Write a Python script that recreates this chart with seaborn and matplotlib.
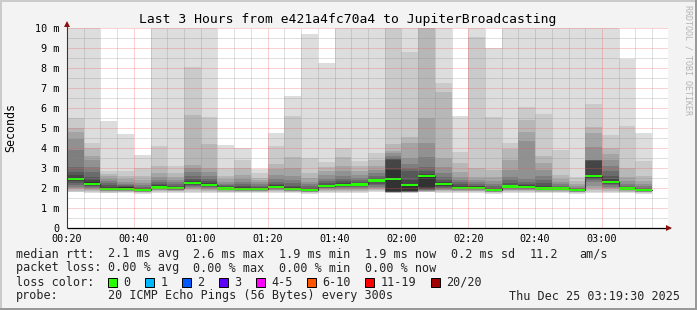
import numpy as np
import pandas as pd
import matplotlib
matplotlib.use("Agg")
import matplotlib.pyplot as plt
from matplotlib.patches import Rectangle
import seaborn as sns

# ---------------- data ----------------
bar_times = ["00:20", "00:25", "00:30", "00:35", "00:40", "00:45", "00:50", "00:55",
             "01:00", "01:05", "01:10", "01:15", "01:20", "01:25", "01:30", "01:35",
             "01:40", "01:45", "01:50", "01:55", "02:00", "02:05", "02:10", "02:15",
             "02:20", "02:25", "02:30", "02:35", "02:40", "02:45", "02:50", "02:55",
             "03:00", "03:05", "03:10"]

median_ms = [2.47, 2.20, 1.95, 1.96, 1.90, 2.03, 1.99, 2.27, 2.15, 1.98, 1.95, 1.95,
             2.07, 1.97, 1.90, 2.11, 2.17, 2.18, 2.38, 2.45, 2.15, 2.62, 2.22, 2.02,
             2.02, 1.90, 2.08, 2.07, 1.98, 1.98, 1.90, 2.60, 2.32, 1.98, 1.90]

# sorted pings, highest first (ping20 .. ping11), in ms
upper_ms = [
    [14, 5.50, 5.02, 4.78, 4.45, 3.90, 3.07, 2.82, 2.65, 2.52],
    [14, 4.27, 4.02, 3.60, 3.40, 3.07, 2.82, 2.57, 2.40, 2.28],
    [5.37, 2.87, 2.72, 2.58, 2.45, 2.35, 2.25, 2.15, 2.07, 2.00],
    [4.70, 2.87, 2.60, 2.45, 2.32, 2.22, 2.15, 2.10, 2.06, 2.03],
    [3.65, 3.00, 2.60, 2.40, 2.25, 2.15, 2.07, 2.01, 1.97, 1.94],
    [14, 4.10, 3.10, 2.75, 2.55, 2.42, 2.30, 2.20, 2.13, 2.09],
    [14, 3.10, 2.75, 2.55, 2.40, 2.28, 2.20, 2.12, 2.06, 2.02],
    [14, 8.07, 5.65, 3.15, 3.00, 2.80, 2.60, 2.45, 2.35, 2.30],
    [14, 5.57, 4.20, 3.00, 2.80, 2.60, 2.45, 2.33, 2.24, 2.19],
    [4.15, 3.00, 2.60, 2.45, 2.30, 2.22, 2.15, 2.08, 2.03, 2.00],
    [4.00, 3.40, 3.00, 2.65, 2.45, 2.30, 2.18, 2.10, 2.04, 2.00],
    [2.95, 2.75, 2.50, 2.38, 2.28, 2.20, 2.12, 2.06, 2.02, 1.99],
    [4.73, 4.10, 3.20, 2.95, 2.65, 2.45, 2.30, 2.20, 2.13, 2.09],
    [6.60, 5.62, 3.53, 3.00, 2.60, 2.40, 2.25, 2.12, 2.04, 1.99],
    [9.72, 3.50, 2.75, 2.50, 2.30, 2.18, 2.08, 2.00, 1.95, 1.92],
    [8.27, 3.30, 3.05, 2.85, 2.65, 2.45, 2.33, 2.23, 2.16, 2.12],
    [14, 4.00, 3.55, 3.10, 2.85, 2.60, 2.45, 2.33, 2.25, 2.20],
    [14, 3.37, 3.10, 2.85, 2.65, 2.50, 2.40, 2.30, 2.24, 2.20],
    [14, 3.75, 3.40, 3.10, 2.90, 2.75, 2.62, 2.52, 2.45, 2.40],
    [14, 14, 4.20, 3.87, 3.75, 3.60, 3.50, 3.45, 3.40, 2.90],
    [14, 8.78, 4.57, 4.25, 3.50, 3.20, 3.00, 2.85, 2.40, 2.20],
    [14, 14, 14, 5.50, 4.27, 3.57, 3.07, 2.83, 2.70, 2.65],
    [14, 7.27, 6.82, 3.48, 3.07, 2.77, 2.57, 2.40, 2.30, 2.25],
    [5.62, 3.82, 3.23, 2.82, 2.57, 2.40, 2.28, 2.18, 2.10, 2.05],
    [14, 9.57, 3.00, 2.57, 2.42, 2.30, 2.20, 2.12, 2.08, 2.05],
    [8.98, 5.53, 2.90, 2.57, 2.35, 2.20, 2.10, 2.02, 1.97, 1.93],
    [14, 4.27, 3.95, 3.40, 2.90, 2.57, 2.40, 2.25, 2.15, 2.10],
    [14, 6.05, 5.40, 4.78, 4.33, 2.45, 2.30, 2.20, 2.13, 2.09],
    [14, 5.70, 3.60, 3.23, 2.90, 2.60, 2.40, 2.25, 2.10, 2.03],
    [14, 3.90, 2.65, 2.45, 2.30, 2.20, 2.12, 2.06, 2.02, 2.00],
    [14, 2.53, 2.35, 2.20, 2.10, 2.02, 1.98, 1.95, 1.93, 1.92],
    [14, 6.20, 5.03, 4.77, 4.07, 3.42, 3.40, 3.38, 3.36, 2.66],
    [14, 4.65, 4.00, 3.70, 3.40, 3.10, 2.85, 2.60, 2.45, 2.37],
    [8.45, 5.10, 3.00, 2.57, 2.35, 2.22, 2.12, 2.06, 2.02, 2.00],
    [4.73, 3.35, 2.60, 2.35, 2.20, 2.10, 2.02, 1.97, 1.94, 1.92],
]

# sorted pings, lowest first (ping1 .. ping10), in ms
lower_ms = [
    [1.78, 1.82, 1.87, 1.93, 2.00, 2.07, 2.15, 2.25, 2.35, 2.43],
    [1.77, 1.80, 1.84, 1.88, 1.93, 1.98, 2.03, 2.08, 2.13, 2.17],
    [1.74, 1.77, 1.80, 1.83, 1.86, 1.88, 1.90, 1.92, 1.93, 1.94],
    [1.74, 1.78, 1.81, 1.84, 1.87, 1.89, 1.91, 1.93, 1.94, 1.95],
    [1.72, 1.75, 1.78, 1.80, 1.82, 1.84, 1.85, 1.87, 1.88, 1.89],
    [1.76, 1.80, 1.84, 1.88, 1.91, 1.94, 1.96, 1.98, 2.00, 2.02],
    [1.75, 1.79, 1.83, 1.86, 1.89, 1.91, 1.93, 1.95, 1.97, 1.98],
    [1.77, 1.82, 1.88, 1.94, 2.00, 2.06, 2.12, 2.17, 2.21, 2.25],
    [1.76, 1.80, 1.85, 1.90, 1.95, 2.00, 2.04, 2.08, 2.11, 2.13],
    [1.75, 1.79, 1.82, 1.85, 1.88, 1.90, 1.92, 1.94, 1.96, 1.97],
    [1.74, 1.78, 1.81, 1.84, 1.86, 1.88, 1.90, 1.92, 1.93, 1.94],
    [1.75, 1.78, 1.81, 1.84, 1.86, 1.88, 1.90, 1.92, 1.93, 1.94],
    [1.76, 1.80, 1.84, 1.88, 1.92, 1.95, 1.98, 2.01, 2.04, 2.06],
    [1.74, 1.78, 1.81, 1.84, 1.87, 1.90, 1.92, 1.94, 1.95, 1.96],
    [1.72, 1.75, 1.78, 1.80, 1.82, 1.84, 1.85, 1.87, 1.88, 1.89],
    [1.76, 1.80, 1.85, 1.90, 1.94, 1.98, 2.02, 2.05, 2.08, 2.10],
    [1.76, 1.81, 1.86, 1.91, 1.96, 2.00, 2.05, 2.09, 2.13, 2.15],
    [1.77, 1.81, 1.86, 1.91, 1.96, 2.01, 2.06, 2.10, 2.14, 2.16],
    [1.78, 1.83, 1.88, 1.94, 2.00, 2.07, 2.14, 2.22, 2.30, 2.35],
    [1.74, 1.76, 1.77, 1.78, 1.79, 1.80, 1.80, 1.81, 1.81, 1.83],
    [1.75, 1.77, 1.78, 1.79, 1.80, 1.81, 1.82, 1.83, 1.84, 1.86],
    [1.78, 1.80, 1.82, 1.84, 1.86, 1.88, 1.90, 1.93, 1.97, 2.05],
    [1.76, 1.80, 1.84, 1.88, 1.92, 1.96, 2.00, 2.05, 2.10, 2.17],
    [1.75, 1.79, 1.83, 1.87, 1.90, 1.93, 1.95, 1.97, 1.99, 2.01],
    [1.75, 1.79, 1.83, 1.87, 1.90, 1.93, 1.95, 1.97, 1.99, 2.01],
    [1.72, 1.75, 1.78, 1.80, 1.82, 1.84, 1.85, 1.87, 1.88, 1.89],
    [1.76, 1.80, 1.84, 1.88, 1.92, 1.96, 1.99, 2.02, 2.05, 2.07],
    [1.76, 1.80, 1.84, 1.88, 1.92, 1.95, 1.98, 2.01, 2.04, 2.06],
    [1.75, 1.79, 1.82, 1.85, 1.88, 1.90, 1.92, 1.94, 1.96, 1.97],
    [1.75, 1.79, 1.82, 1.85, 1.88, 1.90, 1.92, 1.94, 1.96, 1.97],
    [1.72, 1.75, 1.78, 1.80, 1.82, 1.84, 1.85, 1.87, 1.88, 1.89],
    [1.76, 1.82, 1.90, 2.00, 2.10, 2.30, 2.40, 2.45, 2.50, 2.55],
    [1.77, 1.82, 1.87, 1.93, 1.99, 2.06, 2.13, 2.20, 2.26, 2.30],
    [1.75, 1.79, 1.82, 1.85, 1.88, 1.90, 1.92, 1.94, 1.96, 1.97],
    [1.72, 1.75, 1.78, 1.80, 1.82, 1.84, 1.85, 1.87, 1.88, 1.89],
]

x_tick_labels = ["00:20", "00:40", "01:00", "01:20", "01:40", "02:00", "02:20", "02:40", "03:00"]
y_tick_labels = ["0", "1 m", "2 m", "3 m", "4 m", "5 m", "6 m", "7 m", "8 m", "9 m", "10 m"]
title_text = "Last 3 Hours from e421a4fc70a4 to JupiterBroadcasting"
loss_labels = ["0", "1", "2", "3", "4-5", "6-10", "11-19", "20/20"]
loss_colors = ["#26ff00", "#00b8ff", "#0059ff", "#5e00ff", "#ff00ff", "#ff5500", "#ff0000", "#a10000"]
rtt_items = ["2.1 ms avg", "2.6 ms max", "1.9 ms min", "1.9 ms now", "0.2 ms sd", "11.2", "am/s"]
loss_items = ["0.00 % avg", "0.00 % max", "0.00 % min", "0.00 % now"]
probe_text = "20 ICMP Echo Pings (56 Bytes) every 300s"
date_text = "Thu Dec 25 03:19:30 2025"

# ---------------- style ----------------
sns.set_theme(style="white")
MONO = "DejaVu Sans Mono"
plt.rcParams["font.family"] = [MONO]

W, H = 697, 310
BG = "#f3f3f3"
fig = plt.figure(figsize=(W / 100, H / 100), dpi=100, facecolor=BG)

def fx(px):
    return px / W

def fy(py):
    return 1 - py / H

ax = fig.add_axes([fx(67), fy(228), (668 - 67) / W, 200 / H])
ax.set_facecolor("white")
for s in ax.spines.values():
    s.set_visible(False)

px_per_min = 535 / 160.0
xmin = 20.0
xmax = xmin + 601 / px_per_min
ax.set_xlim(xmin, xmax)
ax.set_ylim(0, 10)

def to_min(t):
    h, m = t.split(":")
    return int(h) * 60 + int(m)

starts = np.array([to_min(t) for t in bar_times], dtype=float)
up = np.array(upper_ms, dtype=float)
lo = np.array(lower_ms, dtype=float)
med = np.array(median_ms, dtype=float)

# smoke bands (smokeping style grey levels)
greys = [221, 202, 183, 164, 145, 126, 107, 88, 69, 50]
for k, g in enumerate(greys):
    bottoms = lo[:, k]
    tops = up[:, k]
    ax.bar(starts, tops - bottoms, bottom=bottoms, width=5, align="edge",
           color="#%02x%02x%02x" % (g, g, g), linewidth=0, antialiased=False,
           zorder=2 + k * 0.01)

# median: thin dark step line + green loss-colour bars
df_med = pd.DataFrame({"t": np.append(starts, starts[-1] + 5),
                       "m": np.append(med, med[-1])})
sns.lineplot(data=df_med, x="t", y="m", drawstyle="steps-post", color="#202020",
             linewidth=0.8, ax=ax, zorder=4, estimator=None)
ax.bar(starts, 0.11, bottom=med - 0.055, width=5, align="edge", color=loss_colors[0],
       linewidth=0, antialiased=False, zorder=5)

# grid (drawn on top, rrdtool-like dotted)
dot = (0, (1, 1))
minor_col = (0.55, 0.55, 0.55, 0.55)
major_col = (0.93, 0.35, 0.35, 0.55)
major_x = [to_min(t) for t in x_tick_labels]
minor_x = [v for v in np.arange(25, xmax, 5) if v not in major_x]
gkw = dict(linestyles=dot, linewidth=0.72, zorder=8)
ax.vlines(minor_x, 0, 10, colors=[minor_col], **gkw)
ax.vlines(major_x[1:], 0, 10, colors=[major_col], **gkw)
ax.hlines(np.arange(0.5, 10, 1.0), xmin, xmax, colors=[minor_col], **gkw)
ax.hlines(np.arange(1, 11, 1.0), xmin, xmax, colors=[major_col], **gkw)

# ticks
ax.set_xticks(major_x)
ax.set_xticklabels(x_tick_labels)
ax.set_xticks(minor_x, minor=True)
ax.set_yticks(range(11))
ax.set_yticklabels(y_tick_labels)
ax.set_yticks(np.arange(0.5, 10, 1.0), minor=True)
ax.tick_params(axis="both", which="major", direction="out", length=2, width=0.7,
               color="#303030", labelsize=7.3, labelcolor="black", pad=2.5)
ax.tick_params(axis="both", which="minor", direction="out", length=1.2, width=0.7,
               color="#606060")
ax.tick_params(axis="x", which="major", pad=2.2)
ax.tick_params(axis="y", which="major", pad=3.5)
ax.grid(False)
ax.set_xlabel("")
ax.set_ylabel("")

# axis lines and arrows
ax.plot([xmin, xmin + 603 / px_per_min], [0, 0], color="black", linewidth=0.9,
        clip_on=False, zorder=10, solid_capstyle="butt")
ax.plot([xmin, xmin], [0, 10.25], color="#5a2a2a", linewidth=0.8,
        clip_on=False, zorder=10, solid_capstyle="butt")
ax.plot([xmin + 602 / px_per_min], [0], marker=">", markersize=4.5, color="#8b1010",
        markeredgewidth=0, clip_on=False, zorder=11)
ax.plot([xmin], [10.2], marker="^", markersize=4.5, color="#8b1010",
        markeredgewidth=0, clip_on=False, zorder=11)

# ---------------- texts ----------------
fig.text(fx(347.5), fy(19), title_text, ha="center", va="center", fontsize=9.4,
         family=MONO, color="black")
fig.text(fx(11), fy(128), "Seconds", rotation=90, ha="center", va="center",
         fontsize=8.4, family=MONO, color="black")
fig.text(fx(688), fy(60), "RRDTOOL / TOBI OETIKER", rotation=270, ha="center",
         va="center", fontsize=6.0, family=MONO, color="#b4b4b4")

LF = 8.5
row_y = [254, 268, 282, 296]
fig.text(fx(16), fy(row_y[0]), "median rtt:", ha="left", va="center", fontsize=LF, family=MONO)
rtt_x = [107.5, 193, 279, 365, 451, 530, 579]
for s, x in zip(rtt_items, rtt_x):
    fig.text(fx(x), fy(row_y[0]), s, ha="left", va="center", fontsize=LF, family=MONO)

fig.text(fx(16), fy(row_y[1]), "packet loss:", ha="left", va="center", fontsize=LF, family=MONO)
for s, x in zip(loss_items, [107.5, 193, 279, 365]):
    fig.text(fx(x), fy(row_y[1]), s, ha="left", va="center", fontsize=LF, family=MONO)

fig.text(fx(16), fy(row_y[2]), "loss color:", ha="left", va="center", fontsize=LF, family=MONO)
box_x = [108, 145, 182, 219, 256, 307, 365, 431]
for lab, col, x in zip(loss_labels, loss_colors, box_x):
    fig.patches.append(Rectangle((fx(x), fy(287)), 8.5 / W, 9 / H, transform=fig.transFigure,
                                 facecolor=col, edgecolor="black", linewidth=0.7))
    fig.text(fx(x + 15.5), fy(row_y[2]), lab, ha="left", va="center", fontsize=LF, family=MONO)

fig.text(fx(16), fy(row_y[3]), "probe:", ha="left", va="center", fontsize=LF, family=MONO)
fig.text(fx(107.5), fy(row_y[3]), probe_text, ha="left", va="center", fontsize=LF, family=MONO)
fig.text(fx(680), fy(row_y[3]), date_text, ha="right", va="center", fontsize=LF, family=MONO)

# outer 3D border like rrdtool
fig.patches.append(Rectangle((0, fy(2)), 1, 2 / H, transform=fig.transFigure,
                             facecolor="#cbcbcb", edgecolor="none"))
fig.patches.append(Rectangle((0, 0), 2 / W, 1, transform=fig.transFigure,
                             facecolor="#cbcbcb", edgecolor="none"))
fig.patches.append(Rectangle((0, 0), 1, 2 / H, transform=fig.transFigure,
                             facecolor="#999999", edgecolor="none"))
fig.patches.append(Rectangle((fx(695), 0), 2 / W, 1, transform=fig.transFigure,
                             facecolor="#999999", edgecolor="none"))

fig.savefig("out.png", dpi=100, facecolor=BG)
